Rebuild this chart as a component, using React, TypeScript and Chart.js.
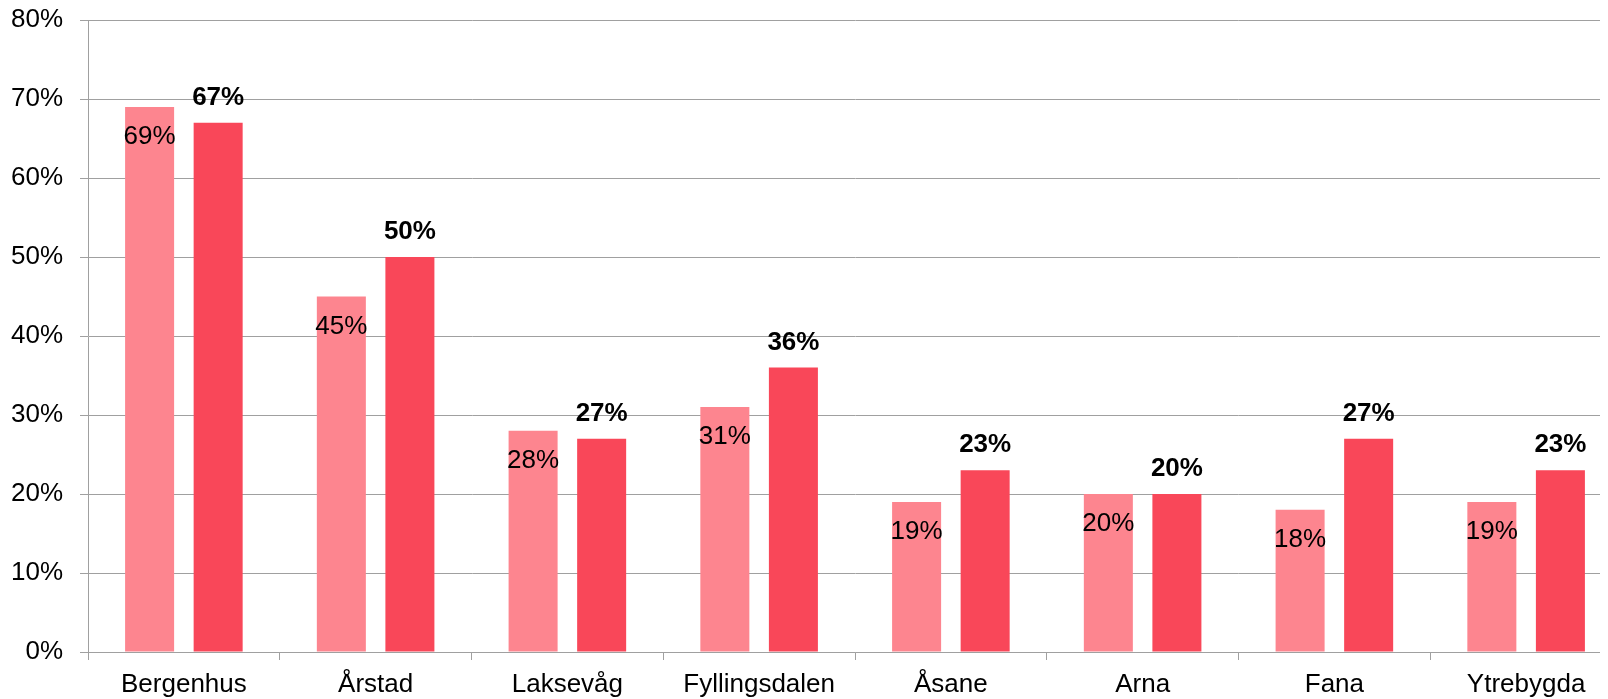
import React, { useEffect, useRef } from "react";
import { Chart, registerables } from "chart.js";

Chart.register(...registerables);

const categories = ["Bergenhus", "Årstad", "Laksevåg", "Fyllingsdalen", "Åsane", "Arna", "Fana", "Ytrebygda"];
const seriesA = [69, 45, 28, 31, 19, 20, 18, 19];
const seriesB = [67, 50, 27, 36, 23, 20, 27, 23];
const yTicks = [0, 10, 20, 30, 40, 50, 60, 70, 80];

const FONT = "'Liberation Sans', Arial, sans-serif";

const labelPlugin = {
  id: "barLabels",
  afterDatasetsDraw(chart: any) {
    const ctx = chart.ctx;
    ctx.save();
    ctx.textAlign = "center";
    ctx.textBaseline = "middle";
    ctx.fillStyle = "#000";
    chart.data.datasets.forEach((ds: any, di: number) => {
      const meta = chart.getDatasetMeta(di);
      meta.data.forEach((el: any, i: number) => {
        const v = ds.data[i];
        const txt = v + "%";
        if (di === 0) {
          ctx.font = `normal 26px ${FONT}`;
          ctx.fillText(txt, el.x, el.y + 30);
        } else {
          ctx.font = `bold 26px ${FONT}`;
          ctx.fillText(txt, el.x, el.y - 25);
        }
      });
    });
    ctx.restore();
  },
};

export default function App() {
  const ref = useRef<HTMLCanvasElement>(null);
  useEffect(() => {
    document.documentElement.style.overflow = "hidden";
    const chart = new Chart(ref.current!, {
      type: "bar",
      data: {
        labels: categories,
        datasets: [
          { data: seriesA, backgroundColor: "#FD858F", categoryPercentage: 0.715, barPercentage: 0.715 },
          { data: seriesB, backgroundColor: "#F94759", categoryPercentage: 0.715, barPercentage: 0.715 },
        ],
      },
      options: {
        responsive: false,
        animation: false,
        layout: { padding: { top: 12, right: 0, bottom: 0, left: 0 } },
        plugins: { legend: { display: false }, tooltip: { enabled: false } },
        scales: {
          x: {
            grid: { drawOnChartArea: false, drawTicks: true, tickLength: 8, color: "#A0A0A0" },
            border: { display: true, color: "#A0A0A0" },
            ticks: { color: "#000", font: { family: FONT, size: 26 }, padding: 9, maxRotation: 0, autoSkip: false },
            afterFit: (s: any) => { s.height = 47; },
          },
          y: {
            min: yTicks[0],
            max: yTicks[yTicks.length - 1],
            afterBuildTicks: (s: any) => { s.ticks = yTicks.map((v) => ({ value: v })); },
            grid: { color: "#A0A0A0", tickLength: 8 },
            border: { display: true, color: "#A0A0A0" },
            ticks: {
              color: "#000",
              font: { family: FONT, size: 26, lineHeight: 1 },
              padding: 17,
              callback: (v: any) => v + "%",
            },
            afterFit: (s: any) => { s.width = 80; s.paddingTop = 12; s.paddingBottom = 12; },
          },
        },
      },
      plugins: [labelPlugin],
    });
    return () => chart.destroy();
  }, []);
  return (
    <div style={{ width: 1600, height: 691, overflow: "hidden" }}>
      <canvas ref={ref} width={1614} height={691} style={{ display: "block" }} />
    </div>
  );
}
